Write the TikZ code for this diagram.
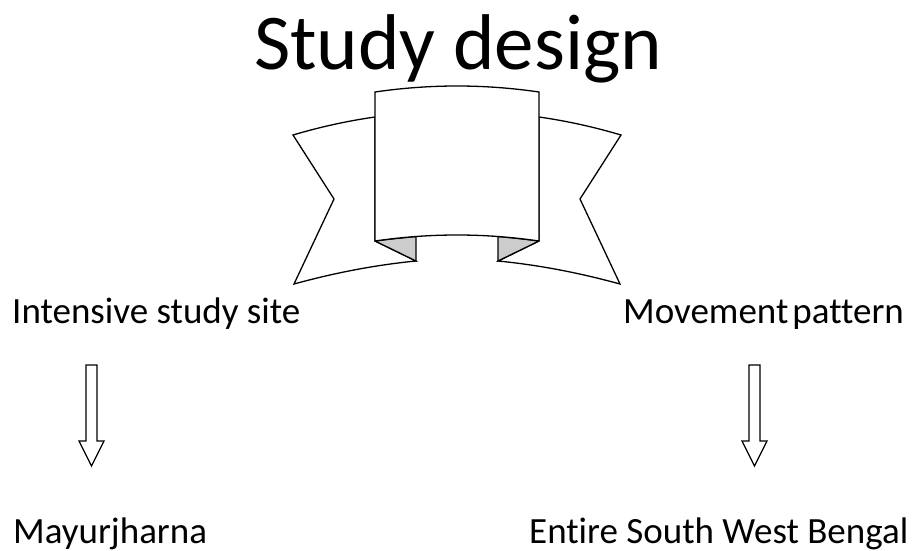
\documentclass[tikz,border=0pt]{standalone}
\usepackage{fontspec}
\setmainfont[Ligatures=NoCommon]{Carlito}
\newcommand\labfont{\fontsize{37}{40}\selectfont}
\newcommand\tightsp{\hspace{4pt}}
\begin{document}
\begin{tikzpicture}[x=1pt,y=-1pt,
  ribbon/.style={draw=black,fill=white,line width=1.3pt,line join=miter},
  fold/.style={draw=black,fill=gray!40,line width=1.3pt,line join=miter},
  hollow/.style={draw=black,fill=white,line width=1.3pt,line join=miter},
  label/.style={font=\labfont,inner sep=0pt,anchor=base west},
  title/.style={font=\fontsize{79}{85}\selectfont,inner sep=0pt,anchor=base}]
\useasboundingbox (0,0) rectangle (916,551);
% title
\node[title] (title) at (458,70) {Study design};
% left wing
\draw[ribbon] (375,117) .. controls (347,121) and (320,127) .. (293,135)
  -- (334,199) -- (294,284) .. controls (334,273) and (375,265) .. (416,261)
  -- (375,241) -- cycle;
% right wing
\draw[ribbon] (539,117) .. controls (567,121) and (594,127) .. (621,135)
  -- (580,199) -- (620,284) .. controls (580,273) and (539,265) .. (498,261)
  -- (539,241) -- cycle;
% folds
\draw[fold] (375,241) -- (416,261) -- (416,236.5) .. controls (400,238) and (388,239.3) .. (375,241);
\draw[fold] (539,241) -- (498,261) -- (498,236.5) .. controls (514,238) and (526,239.3) .. (539,241);
% centre panel
\draw[ribbon] (375,92) .. controls (430,84) and (484,84) .. (539,92)
  -- (539,241) .. controls (484,233) and (430,233) .. (375,241) -- cycle;
% labels
\node[label] (site) at (12,323) {Intensive study site};
\node[label] (move) at (623,323) {Movement\tightsp pattern};
\node[label] (mayur) at (13,543) {Mayurjharna};
\node[label] (bengal) at (529,543) {Entire South West Bengal};
% hollow arrows
\coordinate (a1) at (91.5,365);
\coordinate (a2) at (754.5,365);
\foreach \c in {a1,a2}{
  \draw[hollow] ([xshift=-5.5pt]\c) -- ([xshift=5.5pt]\c) -- ([shift={(5.5,76)}]\c)
    -- ([shift={(12.5,76)}]\c) -- ([shift={(0,101)}]\c) -- ([shift={(-12.5,76)}]\c)
    -- ([shift={(-5.5,76)}]\c) -- cycle;
}
\end{tikzpicture}
\end{document}
